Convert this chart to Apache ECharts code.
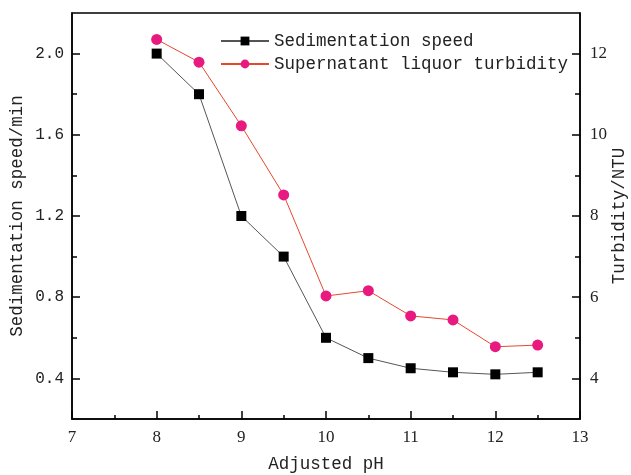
<!DOCTYPE html>
<html>
<head>
<meta charset="utf-8">
<script src="https://cdn.jsdelivr.net/npm/echarts@6/dist/echarts.min.js"></script>
<style>
  html, body { margin: 0; padding: 0; background: #fff; }
  #chart { width: 631px; height: 475px; }
</style>
</head>
<body>
<div id="chart"></div>
<script>
// pH values on the x axis
const phValues = [8, 8.5, 9, 9.5, 10, 10.5, 11, 11.5, 12, 12.5];
// sedimentation speed (left axis)
const speedValues = [2.0, 1.8, 1.2, 1.0, 0.6, 0.5, 0.45, 0.43, 0.42, 0.43];
// supernatant turbidity, NTU (right axis)
const turbidityValues = [12.35, 11.79, 10.22, 8.52, 6.03, 6.16, 5.54, 5.44, 4.78, 4.82];

const leftMajor = [0.4, 0.8, 1.2, 1.6, 2.0];
const leftMinor = [0.6, 1.0, 1.4, 1.8];
const rightMajor = [4, 6, 8, 10, 12];
const rightMinor = [5, 7, 9, 11];

const mono = 'Liberation Mono';
const serif = 'Liberation Serif';

const chart = echarts.init(document.getElementById('chart'));

const pair = (xs, ys) => xs.map((x, i) => [x, ys[i]]);

chart.setOption({
  animation: false,
  grid: {
    left: 72, right: 51, top: 13, bottom: 56,
    outerBoundsMode: 'none', containLabel: false,
    show: true, borderColor: '#000', borderWidth: 1.5,
    backgroundColor: 'transparent'
  },
  legend: {
    orient: 'vertical',
    left: 215, top: 27,
    itemWidth: 48, itemHeight: 11, itemGap: 5,
    textStyle: { fontFamily: mono, fontSize: 17.5, color: '#222' },
    data: ['Sedimentation speed', 'Supernatant liquor turbidity']
  },
  xAxis: {
    type: 'value', min: 7, max: 13, interval: 1,
    name: 'Adjusted pH', nameLocation: 'middle', nameGap: 36,
    nameTextStyle: { fontFamily: mono, fontSize: 17.5, color: '#222' },
    axisLine: { lineStyle: { color: '#000', width: 1.5 } },
    axisTick: { inside: true, length: 8, lineStyle: { color: '#000', width: 1.5 } },
    minorTick: { show: true, splitNumber: 2, length: 4, lineStyle: { color: '#000', width: 1.5 } },
    axisLabel: { fontFamily: serif, fontSize: 17, color: '#222', margin: 10 },
    splitLine: { show: false }
  },
  yAxis: [
    {
      type: 'value', min: 0.2, max: 2.2, position: 'left',
      name: 'Sedimentation speed/min', nameLocation: 'middle', nameGap: 46,
      nameMoveOverlap: false,
      nameTextStyle: { fontFamily: mono, fontSize: 17.5, color: '#222' },
      axisLine: { show: true, lineStyle: { color: '#000', width: 1.5 } },
      axisTick: { inside: true, length: 8, customValues: leftMajor, lineStyle: { color: '#000', width: 1.5 } },
      axisLabel: { fontFamily: mono, fontSize: 16, color: '#222', margin: 8,
        customValues: leftMajor, formatter: v => v.toFixed(1) },
      splitLine: { show: false }
    },
    {
      type: 'value', min: 3, max: 13, position: 'right',
      name: 'Turbidity/NTU', nameLocation: 'middle', nameGap: 30, nameRotate: 90,
      nameMoveOverlap: false,
      nameTextStyle: { fontFamily: mono, fontSize: 17.5, color: '#222' },
      axisLine: { show: true, lineStyle: { color: '#000', width: 1.5 } },
      axisTick: { inside: true, length: 8, customValues: rightMajor, lineStyle: { color: '#000', width: 1.5 } },
      axisLabel: { fontFamily: serif, fontSize: 17, color: '#222', margin: 10, customValues: rightMajor },
      splitLine: { show: false }
    },
    {
      // minor ticks for left axis
      type: 'value', min: 0.2, max: 2.2, position: 'left',
      axisLine: { show: false },
      axisTick: { inside: true, length: 5, customValues: leftMinor, lineStyle: { color: '#000', width: 1.5 } },
      axisLabel: { show: false },
      splitLine: { show: false }
    },
    {
      // minor ticks for right axis
      type: 'value', min: 3, max: 13, position: 'right',
      axisLine: { show: false },
      axisTick: { inside: true, length: 5, customValues: rightMinor, lineStyle: { color: '#000', width: 1.5 } },
      axisLabel: { show: false },
      splitLine: { show: false }
    }
  ],
  series: [
    {
      name: 'Sedimentation speed', type: 'line', yAxisIndex: 0,
      data: pair(phValues, speedValues),
      symbol: 'rect', symbolSize: 10,
      itemStyle: { color: '#000' },
      lineStyle: { color: '#555', width: 1 }
    },
    {
      name: 'Supernatant liquor turbidity', type: 'line', yAxisIndex: 1,
      data: pair(phValues, turbidityValues),
      symbol: 'circle', symbolSize: 11,
      itemStyle: { color: '#e8197f' },
      lineStyle: { color: '#e8472e', width: 1 }
    }
  ]
});
</script>
</body>
</html>
